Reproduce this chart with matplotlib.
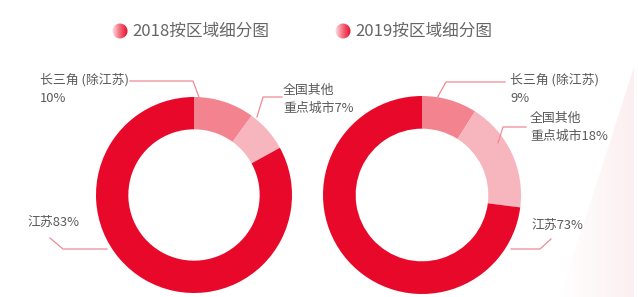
import numpy as np
import matplotlib.pyplot as plt
from matplotlib.patches import Circle, Polygon
from matplotlib.colors import LinearSegmentedColormap

plt.rcParams['font.family'] = ['Noto Sans CJK SC', 'DejaVu Sans']

# data
titles = ['2018按区域细分图', '2019按区域细分图']
regions = ['长三角 (除江苏)', '全国其他\n重点城市', '江苏']
share_2018 = [10, 7, 83]
share_2019 = [9, 18, 73]
colors = ['#F3848F', '#F7B5BE', '#E8092A']

W, H = 638, 297
fig = plt.figure(figsize=(W / 100, H / 100), dpi=100)
ax = fig.add_axes([0, 0, 1, 1])

# very faint pink wedge in lower right corner
bg_cmap = LinearSegmentedColormap.from_list('bg', ['#FFFFFF', '#FCEFF1'])
bg = np.linspace(0, 1, 100).reshape(1, -1)
im = ax.imshow(bg, extent=[560, 634, 0, 230], cmap=bg_cmap,
               aspect='auto', zorder=0)
tri = Polygon([[634, 230], [634, 0], [560, 0]], closed=True, transform=ax.transData)
im.set_clip_path(tri)

dot_cmap = LinearSegmentedColormap.from_list('dot', ['#FCE4E8', '#F46A7C', '#E8092A'])

txt_col = '#5a5a5a'
line_col = '#F08A97'
fs = 9.3

def donut(cx, cy, r, vals):
    ax.pie(vals, colors=colors, startangle=90, counterclock=False,
           center=(cx, cy), radius=r, frame=True,
           wedgeprops=dict(width=r * 0.33, linewidth=0))

def title(x, y, s):
    # gradient dot
    g = np.linspace(0, 1, 50).reshape(1, -1)
    dot = ax.imshow(g, extent=[x - 8, x + 8, y - 8, y + 8], cmap=dot_cmap,
                    aspect='auto', zorder=3)
    dot.set_clip_path(Circle((x, y), 7.5, transform=ax.transData))
    ax.text(x + 12, y, s, fontsize=12, color='#666666', va='center', ha='left')

def leader(pts):
    xs, ys = zip(*pts)
    ax.plot(xs, [H - v for v in ys], color=line_col, lw=0.9, zorder=4)

# left donut (2018)
donut(194, H - 195, 98, share_2018)
title(120, H - 31, titles[0])
ax.text(40, H - 89, f'{regions[0]}\n{share_2018[0]}%', fontsize=fs, color=txt_col,
        va='center', ha='left', linespacing=1.5)
leader([(130, 81), (193, 81), (200, 100)])
ax.text(283, H - 99, f'{regions[1]}{share_2018[1]}%', fontsize=fs, color=txt_col,
        va='center', ha='left', linespacing=1.5)
leader([(257, 117), (263, 97), (282, 97)])
ax.text(27, H - 222, f'{regions[2]}{share_2018[2]}%', fontsize=fs, color=txt_col,
        va='center', ha='left')
leader([(50, 238), (63, 249), (107, 249)])

# right donut (2019)
donut(422, H - 195, 99, share_2019)
title(343, H - 31, titles[1])
ax.text(510, H - 89, f'{regions[0]}\n{share_2019[0]}%', fontsize=fs, color=txt_col,
        va='center', ha='left', linespacing=1.5)
leader([(436, 100), (446, 82), (505, 82)])
ax.text(530, H - 127, f'{regions[1]}{share_2019[1]}%', fontsize=fs, color=txt_col,
        va='center', ha='left', linespacing=1.5)
leader([(498, 143), (503, 127), (526, 127)])
ax.text(531, H - 225, f'{regions[2]}{share_2019[2]}%', fontsize=fs, color=txt_col,
        va='center', ha='left')
leader([(511, 249), (540, 249), (551, 239)])

ax.set_xlim(0, W)
ax.set_ylim(0, H)
ax.set_aspect('auto')
ax.axis('off')

fig.savefig('out.png', dpi=100, facecolor='white')
